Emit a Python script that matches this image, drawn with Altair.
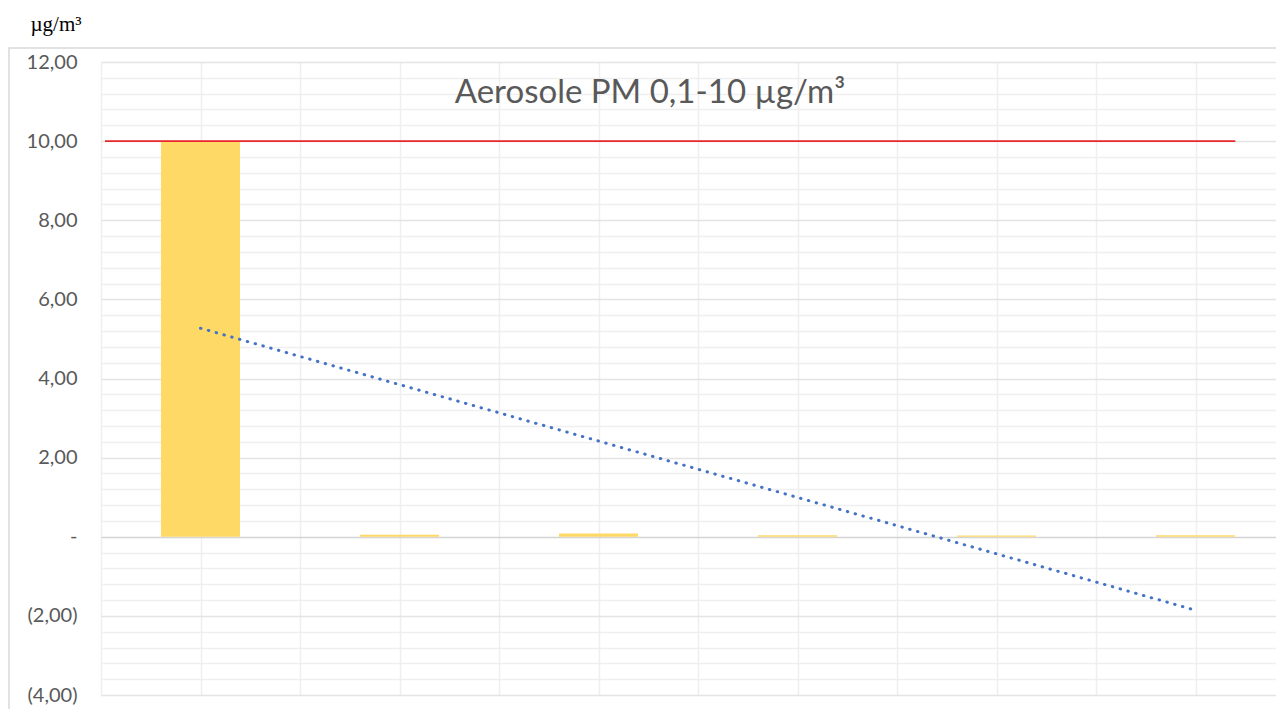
import altair as alt
import pandas as pd

# ---- data ----
sample_index = [1, 2, 3, 4, 5, 6]
pm_values = [10.0, 0.05, 0.08, 0.04, 0.03, 0.04]
limit_value = [10.0]
limit_x_start = [0.52]
limit_x_end = [6.2]
title_text = "Aerosole PM 0,1-10 µg/m³"
unit_text = "µg/m³"

df = pd.DataFrame({"idx": sample_index, "value": pm_values})
limit_df = pd.DataFrame({"x": limit_x_start, "x2": limit_x_end, "y": limit_value})

W, H = 1175, 633
x_scale = alt.Scale(domain=[0.5, 0.5 + 6 * W / 1194], nice=False, zero=False, padding=0)
y_scale = alt.Scale(domain=[-4, 12], nice=False, padding=0)

y_grid_vals = [round(-4 + 0.4 * i, 1) for i in range(41)]
x_grid_vals = [0.5 + 0.5 * i for i in range(13)]

label_expr = (
    "datum.value % 2 !== 0 ? '' : "
    "datum.value === 0 ? '-\u00a0\u00a0\u00a0\u00a0' : "
    "datum.value > 0 ? replace(format(datum.value, '.2f'), '.', ',') + '\u00a0' : "
    "'(' + replace(format(abs(datum.value), '.2f'), '.', ',') + ')'"
)

grid_color = {
    "condition": [
        {"test": "datum.value === 0", "value": "#d4d4d4"},
        {"test": "datum.value % 2 === 0", "value": "#e4e4e4"},
    ],
    "value": "#efefef",
}

x_enc = alt.X(
    "idx:Q",
    scale=x_scale,
    axis=alt.Axis(
        values=x_grid_vals, tickCount=60, labels=False, ticks=False, domain=False, title=None,
        grid=True, gridColor="#efefef", gridWidth=1.5,
    ),
)
y_enc = alt.Y(
    "value:Q",
    scale=y_scale,
    axis=alt.Axis(
        values=y_grid_vals, tickCount=100, labelExpr=label_expr, ticks=False, tickSize=0, domain=False,
        grid=True, gridColor=grid_color, gridWidth=1.5,
        labelOverlap=False, labelFlush=False, labelBound=False,
        labelFont="Lato", labelFontSize=20, labelColor="#595959", labelPadding=24,
        title=unit_text, titleAngle=0, titleX=-71, titleY=-32, titleAlign="left",
        titleBaseline="alphabetic", titleFont="Liberation Serif", titleFontSize=21,
        titleFontWeight="normal", titleColor="#000000",
    ),
)

base = alt.Chart(df)

frame = alt.Chart(pd.DataFrame({"a": [0]})).mark_rect(
    filled=False, stroke="#d9d9d9", strokeWidth=1.5, clip=False
).encode(
    x=alt.value(-92), x2=alt.value(1300), y=alt.value(-14), y2=alt.value(720)
)

bars = base.mark_bar(color="#FFD966", size=79).encode(x=x_enc, y=y_enc)

limit = alt.Chart(limit_df).mark_rule(color="#E8262B", strokeWidth=1.6).encode(
    x=alt.X("x:Q", scale=x_scale), x2="x2:Q", y=alt.Y("y:Q", scale=y_scale)
)

trend = base.transform_regression("idx", "value", method="linear", extent=[1, 6]).mark_line(
    color="#4472C4", strokeWidth=3, strokeDash=[0.5, 7.6], strokeCap="round"
).encode(x=alt.X("idx:Q", scale=x_scale), y=alt.Y("value:Q", scale=y_scale))

title = alt.Chart(pd.DataFrame({"t": [title_text]})).mark_text(
    font="Lato", fontSize=33, color="#595959", align="center", baseline="alphabetic"
).encode(text="t:N", x=alt.value(549), y=alt.value(41))

chart = alt.layer(frame, bars, limit, trend, title).properties(
    width=W, height=H,
    autosize=alt.AutoSizeParams(type="none"),
    padding={"left": 93, "top": 54, "right": 0, "bottom": 14},
    background="white",
).configure_view(stroke=None)

chart.save("out.html", embed_options={"renderer": "svg", "actions": False})
